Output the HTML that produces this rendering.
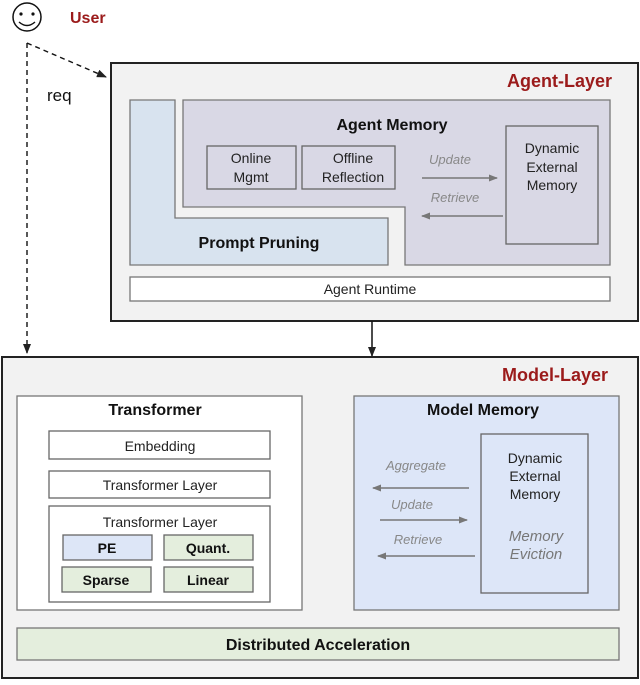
<!DOCTYPE html>
<html><head><meta charset="utf-8"><style>
body{margin:0;width:640px;height:680px;background:#fff;overflow:hidden;font-family:"Liberation Sans",Arial,sans-serif}
svg,svg text{font-family:"Liberation Sans",Arial,sans-serif}
</style></head><body>
<svg width="640" height="680" viewBox="0 0 640 680" xmlns="http://www.w3.org/2000/svg" font-family="Liberation Sans, Arial, sans-serif">
<defs>
<marker id="ah" markerWidth="10" markerHeight="8" refX="9" refY="4" orient="auto" markerUnits="userSpaceOnUse"><path d="M0,0 L10,4 L0,8 z" fill="#222"/></marker>
<marker id="ag" markerWidth="9" markerHeight="7" refX="8" refY="3.5" orient="auto" markerUnits="userSpaceOnUse"><path d="M0,0 L9,3.5 L0,7 z" fill="#777"/></marker>
</defs>
<circle cx="27" cy="17" r="14" fill="#fff" stroke="#111" stroke-width="1.5"/>
<circle cx="21" cy="14" r="1.6" fill="#111"/><circle cx="33" cy="14" r="1.6" fill="#111"/>
<path d="M19,22 Q27,29 35,22" fill="none" stroke="#111" stroke-width="1.4"/>
<text x="70" y="23" font-size="16" font-weight="bold" fill="#9b1b1b">User</text>
<line x1="27" y1="43" x2="106" y2="77" stroke="#111" stroke-width="1.4" stroke-dasharray="5,4" marker-end="url(#ah)"/>
<line x1="27" y1="43" x2="27" y2="353" stroke="#111" stroke-width="1.4" stroke-dasharray="5,4" marker-end="url(#ah)"/>
<text x="47" y="101" font-size="17" fill="#111">req</text>
<rect x="111" y="63" width="527" height="258" fill="#f2f2f2" stroke="#222" stroke-width="2"/>
<text x="612" y="87" font-size="18" font-weight="bold" fill="#9b1b1b" text-anchor="end">Agent-Layer</text>
<path d="M130,100 H175 V218 H388 V265 H130 Z" fill="#d8e3ef" stroke="#777" stroke-width="1.3"/>
<text x="259" y="248" font-size="16" font-weight="bold" fill="#111" text-anchor="middle">Prompt Pruning</text>
<path d="M183,100 H610 V265 H405 V207 H183 Z" fill="#d9d8e5" stroke="#777" stroke-width="1.3"/>
<text x="392" y="130" font-size="16" font-weight="bold" fill="#111" text-anchor="middle">Agent Memory</text>
<rect x="207" y="146" width="89" height="43" fill="none" stroke="#666" stroke-width="1.3"/>
<text x="251" y="163" font-size="14" fill="#222" text-anchor="middle">Online</text>
<text x="251" y="182" font-size="14" fill="#222" text-anchor="middle">Mgmt</text>
<rect x="302" y="146" width="93" height="43" fill="none" stroke="#666" stroke-width="1.3"/>
<text x="353" y="163" font-size="14" fill="#222" text-anchor="middle">Offline</text>
<text x="353" y="182" font-size="14" fill="#222" text-anchor="middle">Reflection</text>
<rect x="506" y="126" width="92" height="118" fill="none" stroke="#666" stroke-width="1.3"/>
<text x="552" y="153" font-size="14" fill="#222" text-anchor="middle">Dynamic</text>
<text x="552" y="172" font-size="14" fill="#222" text-anchor="middle">External</text>
<text x="552" y="190" font-size="14" fill="#222" text-anchor="middle">Memory</text>
<text x="450" y="164" font-size="13" font-style="italic" fill="#888" text-anchor="middle">Update</text>
<line x1="422" y1="178" x2="497" y2="178" stroke="#777" stroke-width="1.5" marker-end="url(#ag)"/>
<text x="455" y="202" font-size="13" font-style="italic" fill="#888" text-anchor="middle">Retrieve</text>
<line x1="503" y1="216" x2="422" y2="216" stroke="#777" stroke-width="1.5" marker-end="url(#ag)"/>
<rect x="130" y="277" width="480" height="24" fill="#fff" stroke="#777" stroke-width="1.3"/>
<text x="370" y="294" font-size="14" fill="#222" text-anchor="middle">Agent Runtime</text>
<line x1="372" y1="321" x2="372" y2="356" stroke="#111" stroke-width="1.5" marker-end="url(#ah)"/>
<rect x="2" y="357" width="636" height="321" fill="#f2f2f2" stroke="#222" stroke-width="2"/>
<text x="608" y="381" font-size="18" font-weight="bold" fill="#9b1b1b" text-anchor="end">Model-Layer</text>
<rect x="17" y="396" width="285" height="214" fill="#fff" stroke="#777" stroke-width="1.3"/>
<text x="155" y="415" font-size="16" font-weight="bold" fill="#111" text-anchor="middle">Transformer</text>
<rect x="49" y="431" width="221" height="28" fill="#fff" stroke="#666" stroke-width="1.3"/>
<text x="160" y="451" font-size="14" fill="#222" text-anchor="middle">Embedding</text>
<rect x="49" y="471" width="221" height="27" fill="#fff" stroke="#666" stroke-width="1.3"/>
<text x="160" y="490" font-size="14" fill="#222" text-anchor="middle">Transformer Layer</text>
<rect x="49" y="506" width="221" height="96" fill="#fff" stroke="#666" stroke-width="1.3"/>
<text x="160" y="527" font-size="14" fill="#222" text-anchor="middle">Transformer Layer</text>
<rect x="63" y="535" width="89" height="25" fill="#dde6f7" stroke="#666" stroke-width="1.3"/>
<text x="107" y="553" font-size="14" font-weight="bold" fill="#111" text-anchor="middle">PE</text>
<rect x="164" y="535" width="89" height="25" fill="#e4eedd" stroke="#666" stroke-width="1.3"/>
<text x="208" y="553" font-size="14" font-weight="bold" fill="#111" text-anchor="middle">Quant.</text>
<rect x="62" y="567" width="89" height="25" fill="#e4eedd" stroke="#666" stroke-width="1.3"/>
<text x="106" y="585" font-size="14" font-weight="bold" fill="#111" text-anchor="middle">Sparse</text>
<rect x="164" y="567" width="89" height="25" fill="#e4eedd" stroke="#666" stroke-width="1.3"/>
<text x="208" y="585" font-size="14" font-weight="bold" fill="#111" text-anchor="middle">Linear</text>
<rect x="354" y="396" width="265" height="214" fill="#dde6f8" stroke="#777" stroke-width="1.3"/>
<text x="483" y="415" font-size="16" font-weight="bold" fill="#111" text-anchor="middle">Model Memory</text>
<rect x="481" y="434" width="107" height="159" fill="none" stroke="#666" stroke-width="1.3"/>
<text x="535" y="463" font-size="14" fill="#222" text-anchor="middle">Dynamic</text>
<text x="535" y="481" font-size="14" fill="#222" text-anchor="middle">External</text>
<text x="535" y="499" font-size="14" fill="#222" text-anchor="middle">Memory</text>
<text x="536" y="541" font-size="15" font-style="italic" fill="#777" text-anchor="middle">Memory</text>
<text x="536" y="559" font-size="15" font-style="italic" fill="#777" text-anchor="middle">Eviction</text>
<text x="416" y="470" font-size="13" font-style="italic" fill="#888" text-anchor="middle">Aggregate</text>
<line x1="469" y1="488" x2="373" y2="488" stroke="#777" stroke-width="1.5" marker-end="url(#ag)"/>
<text x="412" y="509" font-size="13" font-style="italic" fill="#888" text-anchor="middle">Update</text>
<line x1="380" y1="520" x2="467" y2="520" stroke="#777" stroke-width="1.5" marker-end="url(#ag)"/>
<text x="418" y="544" font-size="13" font-style="italic" fill="#888" text-anchor="middle">Retrieve</text>
<line x1="475" y1="556" x2="378" y2="556" stroke="#777" stroke-width="1.5" marker-end="url(#ag)"/>
<rect x="17" y="628" width="602" height="32" fill="#e4eedd" stroke="#777" stroke-width="1.3"/>
<text x="318" y="650" font-size="16" font-weight="bold" fill="#111" text-anchor="middle">Distributed Acceleration</text>
</svg>
</body></html>
